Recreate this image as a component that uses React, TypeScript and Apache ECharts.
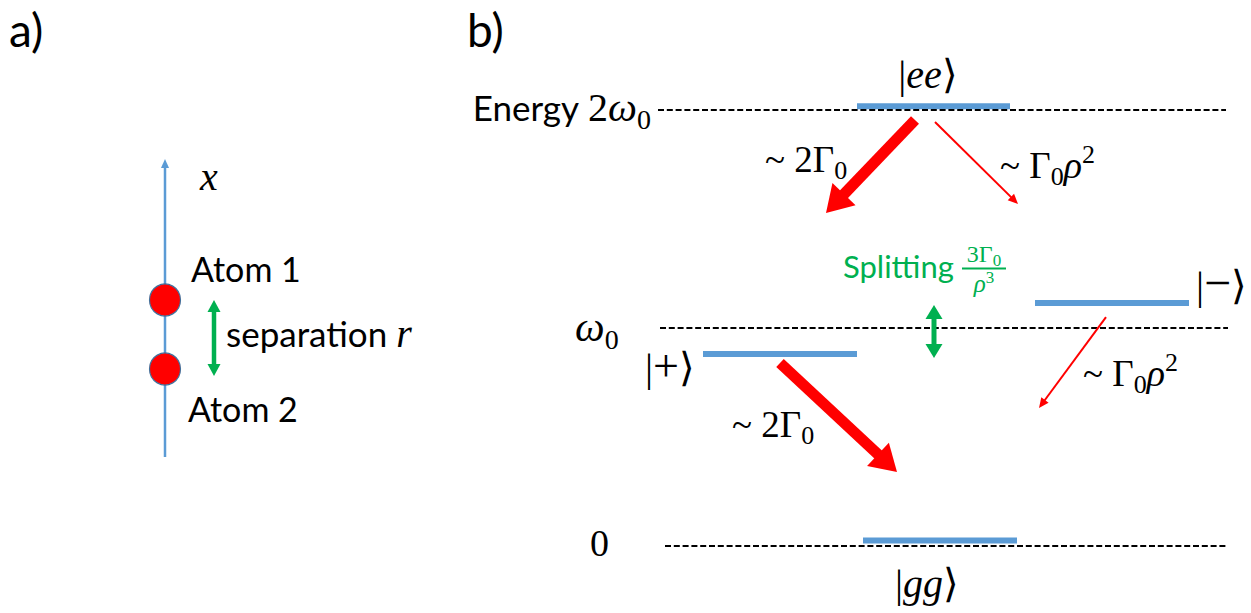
import React, { useEffect, useRef } from 'react';
import * as echarts from 'echarts';

const W = 1251;
const H = 613;

// ---------- Panel a: two atoms on a line ----------
const atomNames = ['Atom 1', 'Atom 2'];
const atomAxisPos = 165; // horizontal place of the x axis line
const atomPos = [300, 369]; // position along the (vertical) x axis, px scale
const axisSpan = [457, 159]; // axis line from bottom to arrow tip
const separationX = 214;
const separationSpan = [300, 376];

// ---------- Panel b: energy levels ----------
const refEnergy = [2, 1, 0];
const refStart = [658, 660, 665];
const refEnd = [1226, 1228, 1228];

const stateNames = ['ee', '−', '+', 'gg'];
const stateEnergy = [2.017, 1.115, 0.881, 0.025];
const stateFrom = [857, 1035, 703, 863];
const stateTo = [1010, 1189, 857, 1017];

// decays: strong (superradiant) and weak (subradiant)
const strongX1 = [915, 780];
const strongE1 = [1.954, 0.839];
const strongX2 = [826, 897];
const strongE2 = [1.528, 0.339];
const weakX1 = [935, 1106];
const weakE1 = [1.945, 1.05];
const weakX2 = [1018, 1039];
const weakE2 = [1.569, 0.633];
const splitX = 934;
const splitE = [1.106, 0.862];

const SANS = 'Lato';
const SERIF = '"Liberation Serif"';
const BLUE = '#5B9BD5';
const RED = '#FF0000';
const GREEN = '#00B050';

let mctx: CanvasRenderingContext2D | null = null;
function measure(font: string, t: string) {
  if (!mctx) mctx = document.createElement('canvas').getContext('2d');
  const c = mctx as CanvasRenderingContext2D;
  c.font = font;
  const m = c.measureText(t);
  return { w: m.width, a: (m as any).fontBoundingBoxAscent || 0, d: (m as any).fontBoundingBoxDescent || 0 };
}

type Seg = { t: string; f?: 's' | 'm'; size: number; it?: boolean; dy?: number };

function textRun(x: number, baseline: number, segs: Seg[], align: 'left' | 'center' | 'right' = 'left', color = '#000') {
  const items = segs.map((s) => {
    const fam = s.f === 's' ? SANS : SERIF;
    const font = `${s.it ? 'italic ' : ''}${s.size}px ${fam}`;
    return { s, fam, m: measure(font, s.t) };
  });
  const total = items.reduce((acc, b) => acc + b.m.w, 0);
  let cx = align === 'left' ? x : align === 'center' ? x - total / 2 : x - total;
  const els: any[] = [];
  for (const it of items) {
    const by = baseline + (it.s.dy || 0);
    const mid = by - (it.m.a - it.m.d) / 2;
    els.push({
      type: 'text',
      x: cx,
      y: mid,
      silent: true,
      style: {
        text: it.s.t,
        fontFamily: it.fam,
        fontSize: it.s.size,
        fontStyle: it.s.it ? 'italic' : 'normal',
        fill: color,
        align: 'left',
        verticalAlign: 'middle',
      },
    });
    cx += it.m.w;
  }
  return els;
}

function arrowShapes(p1: number[], p2: number[], w: number, hl: number, hw: number, color: string, double: boolean) {
  const dx = p2[0] - p1[0];
  const dy = p2[1] - p1[1];
  const len = Math.sqrt(dx * dx + dy * dy) || 1;
  const ux = dx / len;
  const uy = dy / len;
  const nx = -uy;
  const ny = ux;
  const b2 = [p2[0] - ux * hl, p2[1] - uy * hl];
  const a = double ? [p1[0] + ux * hl, p1[1] + uy * hl] : p1;
  const e = [b2[0] + ux * 1, b2[1] + uy * 1];
  const s = double ? [a[0] - ux * 1, a[1] - uy * 1] : a;
  const children: any[] = [
    {
      type: 'polygon',
      shape: {
        points: [
          [s[0] + nx * w / 2, s[1] + ny * w / 2],
          [e[0] + nx * w / 2, e[1] + ny * w / 2],
          [e[0] - nx * w / 2, e[1] - ny * w / 2],
          [s[0] - nx * w / 2, s[1] - ny * w / 2],
        ],
      },
      style: { fill: color },
    },
    {
      type: 'polygon',
      shape: {
        points: [
          p2,
          [b2[0] + nx * hw / 2, b2[1] + ny * hw / 2],
          [b2[0] - nx * hw / 2, b2[1] - ny * hw / 2],
        ],
      },
      style: { fill: color },
    },
  ];
  if (double) {
    children.push({
      type: 'polygon',
      shape: {
        points: [
          p1,
          [a[0] + nx * hw / 2, a[1] + ny * hw / 2],
          [a[0] - nx * hw / 2, a[1] - ny * hw / 2],
        ],
      },
      style: { fill: color },
    });
  }
  return { type: 'group', children };
}

function arrowSeries(data: number[][], grid: number, w: number, hl: number, hw: number, color: string, double = false) {
  return {
    type: 'custom',
    coordinateSystem: 'cartesian2d',
    xAxisIndex: grid,
    yAxisIndex: grid,
    clip: false,
    silent: true,
    data,
    renderItem: (params: any, api: any) => {
      const p1 = api.coord([api.value(0), api.value(1)]);
      const p2 = api.coord([api.value(2), api.value(3)]);
      return arrowShapes(p1, p2, w, hl, hw, color, double);
    },
  };
}

function buildOption() {
  const levelData = stateNames.map((_, i) => [stateFrom[i], stateTo[i], stateEnergy[i]]);
  const refData = refEnergy.map((e, i) => [refStart[i], refEnd[i], e]);
  const strongData = strongX1.map((_, i) => [strongX1[i], strongE1[i], strongX2[i], strongE2[i]]);
  const weakData = weakX1.map((_, i) => [weakX1[i], weakE1[i], weakX2[i], weakE2[i]]);

  const M = 37;
  const SUB = 26;
  const K = 40;
  const texts: any[] = [
    ...textRun(9, 47, [{ t: 'a)', f: 's', size: 46 }]),
    ...textRun(467, 47, [{ t: 'b)', f: 's', size: 46 }]),
    ...textRun(200, 190, [{ t: 'x', size: 40, it: true }]),
    ...textRun(191, 282, [{ t: atomNames[0], f: 's', size: 34 }]),
    ...textRun(188, 422, [{ t: atomNames[1], f: 's', size: 34 }]),
    ...textRun(226, 347, [
      { t: 'separation ', f: 's', size: 35 },
      { t: 'r', size: 40, it: true },
    ]),
    ...textRun(651, 121, [
      { t: 'Energy ', f: 's', size: 35 },
      { t: '2', size: 40 },
      { t: 'ω', size: 41, it: true },
      { t: '0', size: 28, dy: 8 },
    ], 'right'),
    ...textRun(575, 341, [
      { t: 'ω', size: 42, it: true },
      { t: '0', size: 28, dy: 8 },
    ]),
    ...textRun(590, 556, [{ t: '0', size: 38 }]),
    // state labels
    ...textRun(928, 88, [{ t: '|', size: K }, { t: stateNames[0], size: K, it: true }, { t: '⟩', size: K }], 'center'),
    ...textRun(1196, 299, [{ t: '|', size: K }, { t: stateNames[1], size: K + 8 }, { t: '⟩', size: K }]),
    ...textRun(645, 381, [{ t: '|', size: K }, { t: stateNames[2], size: K + 6 }, { t: '⟩', size: K }]),
    ...textRun(927, 597, [{ t: '|', size: K }, { t: stateNames[3], size: K, it: true }, { t: '⟩', size: K }], 'center'),
    // decay rates
    ...textRun(765, 172, [{ t: '~ 2Γ', size: M }, { t: '0', size: SUB, dy: 7 }]),
    ...textRun(732, 437, [{ t: '~ 2Γ', size: M }, { t: '0', size: SUB, dy: 7 }]),
    ...textRun(1000, 178, [
      { t: '~ Γ', size: M },
      { t: '0', size: SUB, dy: 7 },
      { t: 'ρ', size: M + 1, it: true },
      { t: '2', size: SUB, dy: -15 },
    ]),
    ...textRun(1083, 386, [
      { t: '~ Γ', size: M },
      { t: '0', size: SUB, dy: 7 },
      { t: 'ρ', size: M + 1, it: true },
      { t: '2', size: SUB, dy: -15 },
    ]),
    // splitting
    ...textRun(843, 278, [{ t: 'Splitting', f: 's', size: 31 }], 'left', GREEN),
    ...textRun(984, 262, [{ t: '3Γ', size: 24 }, { t: '0', size: 17, dy: 4 }], 'center', GREEN),
    ...textRun(984, 292, [{ t: 'ρ', size: 25, it: true }, { t: '3', size: 17, dy: -9 }], 'center', GREEN),
    {
      type: 'line',
      silent: true,
      shape: { x1: 962, y1: 268.5, x2: 1006, y2: 268.5 },
      style: { stroke: GREEN, lineWidth: 2 },
    },
  ];

  return {
    animation: false,
    backgroundColor: '#ffffff',
    grid: [
      { left: 0, top: 0, width: W, height: H, show: false },
      { left: 0, top: 110, width: W, height: 436, show: false },
    ],
    xAxis: [
      { type: 'value', gridIndex: 0, min: 0, max: W, show: false },
      { type: 'value', gridIndex: 1, min: 0, max: W, show: false },
    ],
    yAxis: [
      { type: 'value', gridIndex: 0, min: 0, max: H, inverse: true, show: false },
      { type: 'value', gridIndex: 1, min: 0, max: 2, show: false },
    ],
    series: [
      // panel a
      arrowSeries([[atomAxisPos, axisSpan[0], atomAxisPos, axisSpan[1]]], 0, 2.5, 9, 8, BLUE),
      {
        type: 'scatter',
        xAxisIndex: 0,
        yAxisIndex: 0,
        silent: true,
        symbol: 'circle',
        symbolSize: [31, 32],
        itemStyle: { color: RED, borderColor: '#41719C', borderWidth: 1.2, opacity: 1 },
        data: atomPos.map((p) => [atomAxisPos, p]),
      },
      arrowSeries([[separationX, separationSpan[0], separationX, separationSpan[1]]], 0, 4.5, 12, 13, GREEN, true),
      // panel b
      {
        type: 'custom',
        coordinateSystem: 'cartesian2d',
        xAxisIndex: 1,
        yAxisIndex: 1,
        clip: false,
        silent: true,
        data: levelData,
        renderItem: (params: any, api: any) => {
          const p1 = api.coord([api.value(0), api.value(2)]);
          const p2 = api.coord([api.value(1), api.value(2)]);
          return {
            type: 'line',
            shape: { x1: p1[0], y1: p1[1], x2: p2[0], y2: p2[1] },
            style: { stroke: BLUE, lineWidth: 6, lineCap: 'butt' },
          };
        },
      },
      {
        type: 'custom',
        coordinateSystem: 'cartesian2d',
        xAxisIndex: 1,
        yAxisIndex: 1,
        clip: false,
        silent: true,
        data: refData,
        renderItem: (params: any, api: any) => {
          const p1 = api.coord([api.value(0), api.value(2)]);
          const p2 = api.coord([api.value(1), api.value(2)]);
          return {
            type: 'line',
            shape: { x1: p1[0], y1: p1[1], x2: p2[0], y2: p2[1] },
            style: { stroke: '#000', lineWidth: 2, lineDash: [6, 2.8], lineCap: 'butt' },
          };
        },
      },
      arrowSeries(strongData, 1, 11, 26, 32, RED),
      arrowSeries(weakData, 1, 2, 10, 9, RED),
      arrowSeries([[splitX, splitE[0], splitX, splitE[1]]], 1, 5, 14, 17, GREEN, true),
    ],
    graphic: texts,
  };
}

export default function App() {
  const ref = useRef<HTMLDivElement>(null);
  useEffect(() => {
    document.body.style.margin = '0';
    if (!ref.current) return;
    const chart = echarts.init(ref.current, undefined, { renderer: 'svg' });
    chart.setOption(buildOption() as any);
    return () => chart.dispose();
  }, []);
  return <div ref={ref} style={{ position: 'fixed', left: 0, top: 0, width: W, height: H, background: '#fff' }} />;
}
